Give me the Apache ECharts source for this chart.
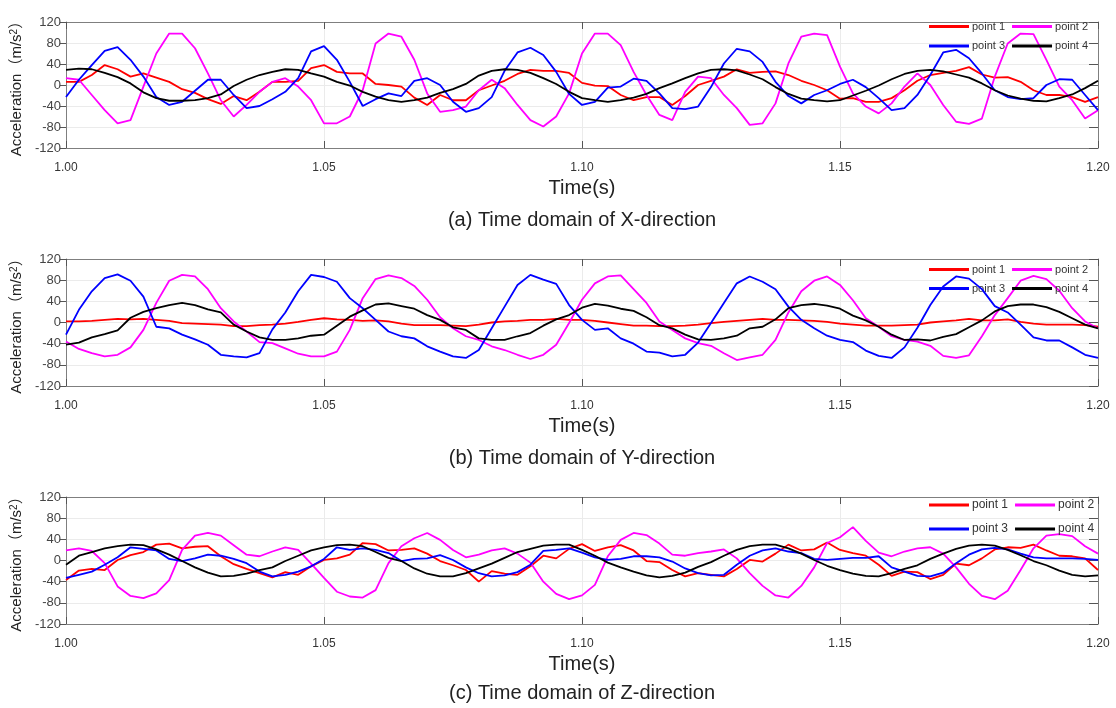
<!DOCTYPE html>
<html lang="en">
<head>
<meta charset="UTF-8">
<title>Time domain</title>
<style>html,body{margin:0;padding:0;background:#fff;}</style>
</head>
<body>
<div id="main" style="width:1116px;height:708px"></div>
<script src="https://cdn.jsdelivr.net/npm/echarts@6/dist/echarts.min.js"></script>
<script>
var tStart = 1.0, tStep = 0.0025;
var names = ['point 1', 'point 2', 'point 3', 'point 4'];
var colors = ['#ff0000', '#ff00ff', '#0000ff', '#000000'];
var xTicks = [1.00, 1.05, 1.10, 1.15, 1.20];
var yTicks = [-120, -80, -40, 0, 40, 80, 120];

// (a) X-direction
var aP1 = [6, 6, 19, 38, 30, 16, 22, 14, 6, -8, -15, -27, -36, -21, -29, -13, 6, 6, 8, 32, 38, 25, 22, 22, 2, 0,
  -3, -24, -38, -19, -29, -29, -10, -1, 8, 21, 29, 27, 27, 23, 4, -1, -2, -19, -29, -23, -23, -38, -21, 0, 8, 16, 30, 23,
  25, 26, 19, 8, 0, -10, -26, -25, -32, -32, -25, -10, 8, 19, 23, 27, 34, 20, 14, 15, 6, -10, -19, -19, -23, -32, -23];
var aP2 = [13, 10, -19, -48, -73, -67, -3, 60, 98, 98, 70, 22, -29, -60, -38, -13, 6, 13, -3, -29, -73, -73, -60, -10, 79, 98,
  92, 48, -16, -51, -48, -41, -10, 10, -6, -38, -67, -79, -60, -16, 60, 98, 98, 76, 25, -19, -57, -67, -13, 16, 13, -19, -44, -76,
  -73, -35, 41, 92, 98, 95, 35, -16, -41, -54, -35, -3, 22, 0, -38, -70, -74, -64, 16, 79, 98, 97, 48, -3, -29, -64, -48];
var aP3 = [-23, 10, 38, 65, 72, 48, 16, -23, -38, -32, -11, 10, 10, -19, -44, -40, -27, -13, 13, 64, 74, 48, 6, -40, -27, -16,
  -21, 8, 13, 0, -32, -51, -44, -23, 27, 62, 71, 57, 25, -17, -38, -32, -5, -3, 12, 8, -16, -44, -46, -41, -4, 41, 69, 64,
  44, 6, -21, -35, -19, -10, 2, 10, -4, -25, -48, -44, -19, 19, 62, 67, 51, 22, -10, -23, -27, -25, 0, 11, 10, -19, -48];
var aP4 = [29, 31, 30, 23, 15, 3, -14, -25, -30, -30, -29, -25, -18, -2, 10, 19, 25, 30, 29, 22, 16, 6, -1, -13, -22, -29,
  -32, -29, -24, -15, -8, 2, 18, 27, 30, 29, 23, 13, 2, -13, -25, -29, -32, -29, -24, -17, -6, 3, 13, 22, 29, 30, 28, 20,
  11, -4, -17, -26, -29, -31, -29, -20, -11, -1, 11, 21, 27, 29, 26, 20, 14, 3, -10, -20, -26, -30, -31, -25, -18, -6, 8];

// (b) Y-direction
var bP1 = [2, 2, 3, 5, 7, 6, 7, 5, 3, -1, -2, -3, -4, -7, -7, -5, -4, -2, 1, 5, 8, 6, 5, 3, 4, 2,
  -2, -5, -5, -5, -6, -7, -4, 0, 2, 3, 5, 5, 7, 5, 5, 3, 0, -3, -6, -6, -7, -7, -6, -4, -1, 1, 3, 5,
  7, 5, 5, 4, 3, 1, -2, -4, -6, -6, -6, -5, -4, 0, 2, 4, 7, 4, 4, 6, 1, -2, -4, -4, -4, -5, -8];
var bP2 = [-36, -50, -58, -64, -61, -47, -14, 37, 79, 90, 87, 63, 27, 2, -17, -37, -39, -49, -59, -64, -64, -55, -14, 46, 82, 89,
  84, 69, 43, 10, -11, -26, -33, -45, -52, -61, -69, -61, -42, -1, 43, 74, 87, 89, 63, 37, 2, -14, -30, -39, -44, -58, -71, -66,
  -61, -33, 19, 59, 79, 87, 71, 42, 8, -8, -26, -33, -36, -44, -63, -67, -62, -26, 14, 46, 79, 88, 82, 60, 27, 2, -11];
var bP3 = [-23, 24, 59, 84, 91, 79, 49, -8, -11, -23, -32, -42, -61, -64, -66, -58, -13, 19, 59, 90, 86, 77, 46, 27, 5, -17,
  -26, -30, -45, -55, -64, -67, -52, -11, 30, 71, 90, 81, 73, 33, 5, -14, -11, -30, -40, -55, -57, -64, -61, -38, -1, 37, 74, 87,
  77, 63, 30, 5, -11, -25, -33, -37, -53, -63, -67, -47, -10, 33, 68, 87, 83, 63, 31, 19, -4, -28, -34, -34, -47, -61, -67];
var bP4 = [-42, -38, -28, -22, -15, 9, 20, 27, 33, 37, 33, 25, 19, -4, -17, -28, -33, -33, -30, -25, -23, -6, 11, 23, 34, 36,
  31, 26, 14, 5, -9, -14, -30, -33, -33, -26, -20, -6, 6, 14, 28, 35, 32, 26, 22, 10, -5, -11, -23, -32, -33, -30, -25, -11,
  -8, 6, 27, 33, 35, 32, 26, 13, 4, -8, -23, -33, -32, -34, -27, -22, -9, 4, 21, 31, 34, 34, 29, 20, 8, -4, -11];

// (c) Z-direction
var cP1 = [-37, -19, -16, -18, 1, 10, 16, 30, 32, 23, 26, 27, 8, -7, -16, -24, -32, -22, -27, -11, 1, 4, 11, 33, 31, 19,
  20, 23, 13, -1, -9, -18, -40, -20, -25, -27, -11, 9, 4, 22, 31, 18, 25, 29, 19, -1, -3, -18, -30, -24, -27, -30, -16, 1,
  -2, 13, 30, 19, 21, 34, 20, 14, 9, -8, -29, -21, -22, -35, -27, -6, -9, 4, 21, 25, 24, 30, 19, 9, 8, 4, -18];
var cP2 = [19, 23, 18, -5, -49, -67, -71, -62, -37, 20, 47, 52, 47, 29, 11, 8, 17, 25, 20, -6, -33, -59, -68, -70, -56, -5,
  27, 42, 52, 39, 20, 6, 11, 19, 23, 13, -4, -40, -63, -73, -66, -46, 8, 39, 52, 48, 32, 11, 9, 14, 17, 21, 4, -24,
  -48, -66, -70, -48, -13, 33, 44, 63, 37, 15, 8, 17, 23, 25, 13, -13, -44, -67, -73, -57, -18, 23, 47, 50, 46, 27, 13];
var cP3 = [-33, -27, -21, -8, 6, 25, 22, 19, 3, -1, 4, 11, 9, 3, -5, -21, -30, -27, -21, -11, 3, 25, 20, 23, 20, 14,
  -1, 3, 4, 10, 1, -13, -24, -30, -28, -22, -8, 18, 20, 23, 15, 6, 1, 3, 8, 8, 6, -2, -15, -24, -28, -27, -8, 9,
  19, 23, 17, 14, 3, 1, 3, 5, 5, 8, -13, -21, -29, -30, -23, -5, 11, 21, 24, 21, 13, 6, 4, 4, 4, 3, 1];
var cP4 = [-8, 9, 16, 23, 27, 30, 29, 21, 11, -1, -13, -23, -30, -29, -25, -18, -13, -1, 9, 19, 25, 29, 30, 27, 16, 5,
  -1, -15, -25, -30, -30, -24, -15, -6, 5, 16, 22, 28, 30, 30, 20, 9, -4, -13, -21, -28, -32, -29, -23, -12, -3, 9, 20, 27,
  30, 30, 23, 13, 1, -10, -18, -25, -29, -30, -24, -16, -9, 3, 13, 22, 28, 30, 28, 20, 10, -1, -9, -19, -27, -30, -28];

var font = '"Liberation Sans", Arial, "Noto Sans CJK SC", sans-serif';

var panels = [
  {top: 22, height: 126, series: [aP1, aP2, aP3, aP4], caption: '(a) Time domain of X-direction', capY: 220,
   rows: [28, 47.5], legendFont: 11},
  {top: 259, height: 127, series: [bP1, bP2, bP3, bP4], caption: '(b) Time domain of Y-direction', capY: 458,
   rows: [271, 290], legendFont: 11},
  {top: 497, height: 127, series: [cP1, cP2, cP3, cP4], caption: '(c) Time domain of Z-direction', capY: 693,
   rows: [506, 530], legendFont: 12}
];

function toPairs(arr) {
  return arr.map(function (v, i) { return [+(tStart + tStep * i).toFixed(4), v]; });
}

var myChart = echarts.init(document.getElementById('main'));
var grid = [], xAxis = [], yAxis = [], series = [], legend = [], graphic = [];
var frame = {show: true, onZero: false, lineStyle: {color: '#7f7f7f', width: 1}};

panels.forEach(function (p, k) {
  grid.push({left: 66, top: p.top, width: 1032, height: p.height});

  // bottom / top x axes
  xAxis.push({
    gridIndex: k, type: 'value', min: xTicks[0], max: xTicks[xTicks.length - 1], interval: 0.05,
    position: 'bottom', axisLine: frame,
    axisTick: {inside: true, length: 7, lineStyle: {color: '#555'}},
    axisLabel: {margin: 14, fontSize: 12, color: '#333', fontFamily: font,
      formatter: function (v) { return v.toFixed(2); }},
    splitLine: {show: true, lineStyle: {color: '#ebebeb'}},
    name: 'Time(s)', nameLocation: 'middle', nameGap: 30,
    nameTextStyle: {fontSize: 20, color: '#222', fontFamily: font}
  });
  xAxis.push({
    gridIndex: k, type: 'value', min: xTicks[0], max: xTicks[xTicks.length - 1], interval: 0.05,
    position: 'top', axisLine: frame,
    axisTick: {inside: true, length: 7, lineStyle: {color: '#555'}},
    axisLabel: {show: false}, splitLine: {show: false}
  });

  // left / right y axes
  yAxis.push({
    gridIndex: k, type: 'value', min: yTicks[0], max: yTicks[yTicks.length - 1], interval: 40, position: 'left',
    axisLine: frame,
    axisTick: {show: true, inside: false, length: 6, lineStyle: {color: '#555'}},
    axisLabel: {margin: 5, fontSize: 13, color: '#444', fontFamily: font},
    splitLine: {show: true, lineStyle: {color: '#ebebeb'}},
    name: 'Acceleration（m/s{sup|2}）', nameLocation: 'middle', nameGap: 36, nameRotate: 90,
    nameTextStyle: {fontSize: 15, color: '#222', fontFamily: font,
      rich: {sup: {fontSize: 10, verticalAlign: 'top', fontFamily: font, color: '#222'}}}
  });
  yAxis.push({
    gridIndex: k, type: 'value', min: yTicks[0], max: yTicks[yTicks.length - 1], interval: 40, position: 'right',
    axisLine: frame,
    axisTick: {show: true, inside: true, length: 9, lineStyle: {color: '#555'}},
    axisLabel: {show: false}, splitLine: {show: false}
  });

  p.series.forEach(function (arr, s) {
    series.push({
      name: names[s], type: 'line', xAxisIndex: 2 * k, yAxisIndex: 2 * k,
      data: toPairs(arr), symbol: 'none', z: 2 + s,
      lineStyle: {color: colors[s], width: 1.8}, itemStyle: {color: colors[s]}
    });
  });

  [[names[0], names[1]], [names[2], names[3]]].forEach(function (row, r) {
    legend.push({
      data: row, left: 929, top: p.rows[r] - 7, padding: 0, orient: 'horizontal',
      icon: 'rect', itemWidth: 40, itemHeight: 3, itemGap: 7,
      textStyle: {fontSize: p.legendFont, color: '#333', fontFamily: font, padding: [0, 0, 0, -2]}
    });
  });

  graphic.push({
    type: 'text', x: 582, y: p.capY,
    style: {text: p.caption, font: '20px ' + font, fill: '#222', align: 'center', verticalAlign: 'middle'}
  });
});

var option = {
  animation: false,
  backgroundColor: '#fff',
  grid: grid, xAxis: xAxis, yAxis: yAxis,
  legend: legend, series: series, graphic: graphic
};
myChart.setOption(option);
</script>
</body>
</html>
